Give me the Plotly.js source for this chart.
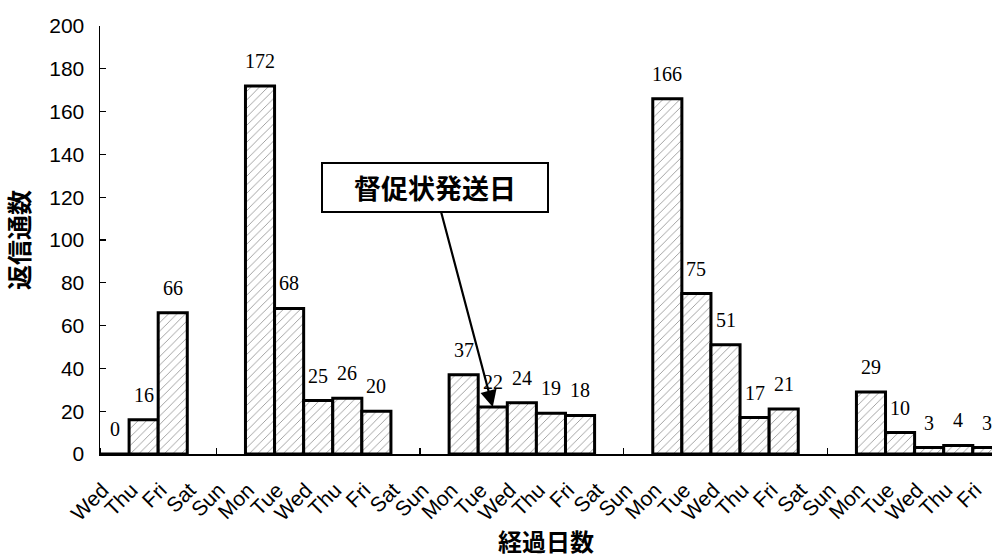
<!DOCTYPE html>
<html>
<head>
<meta charset="utf-8">
<script src="https://cdn.plot.ly/plotly-3.0.1.min.js"></script>
<style>html,body{margin:0;padding:0;background:#fff;}#chart{width:992px;height:558px;}</style>
</head>
<body>
<div id="chart"></div>
<script>
// Day-of-week labels for each elapsed day
const dayLabels = ["Wed","Thu","Fri","Sat","Sun","Mon","Tue","Wed","Thu","Fri","Sat","Sun",
  "Mon","Tue","Wed","Thu","Fri","Sat","Sun","Mon","Tue","Wed","Thu","Fri","Sat","Sun",
  "Mon","Tue","Wed","Thu","Fri"];
// Number of replies per day (null = no mail delivery, weekend)
const replies = [0,16,66,null,null,172,68,25,26,20,null,null,
  37,22,24,19,18,null,null,166,75,51,17,21,null,null,
  29,10,3,4,3];
const reminderDayIndex = 13;
const reminderText = "督促状発送日";
const xTitle = "経過日数";
const yTitle = "返信通数";

const xs = dayLabels.map((d, i) => i);

const cjk = '"Noto Sans CJK JP", "Noto Sans CJK SC", sans-serif';
const sans = '"Liberation Sans", Arial, sans-serif';
const serif = '"Liberation Serif", "Times New Roman", serif';

const trace = {
  type: 'bar',
  x: xs,
  y: replies,
  width: 1,
  marker: {
    color: '#ffffff',
    line: {color: '#000', width: 3},
    pattern: {shape: '/', fgcolor: '#999', bgcolor: '#fff', size: 6, solidity: 0.15}
  },
  hoverinfo: 'skip'
};

const annotations = [];
replies.forEach((v, i) => {
  if (v === null) return;
  annotations.push({
    x: i, y: v, xref: 'x', yref: 'y',
    text: String(v), showarrow: false,
    yanchor: 'middle', yshift: 25,
    font: {family: serif, size: 20, color: '#000'}
  });
});
annotations.push({
  x: reminderDayIndex, y: replies[reminderDayIndex], xref: 'x', yref: 'y',
  text: '<b>' + reminderText + '</b>',
  showarrow: true, arrowhead: 2, arrowsize: 1.5, arrowwidth: 2.2, arrowcolor: '#000',
  ax: -58, ay: -219,
  standoff: 0,
  width: 222, height: 45,
  bgcolor: '#fff', bordercolor: '#000', borderwidth: 2, borderpad: 1,
  font: {family: cjk, size: 27, color: '#000'}
});

const layout = {
  width: 992, height: 558,
  margin: {l: 100, r: 0, t: 26, b: 104},
  paper_bgcolor: '#fff', plot_bgcolor: '#fff',
  showlegend: false,
  bargap: 0,
  xaxis: {
    range: [-0.5, 30.16],
    tickmode: 'array', tickvals: xs, ticktext: dayLabels,
    tickangle: -45,
    ticks: '',
    ticklabelshift: -12,
    ticklabelstandoff: 14,
    tickfont: {family: sans, size: 21, color: '#000'},
    showline: true, linecolor: '#000', linewidth: 1.5,
    showgrid: false, zeroline: false,
    minor: {tick0: -0.5, dtick: 1, ticks: 'inside', ticklen: 6, tickcolor: '#000', tickwidth: 1.2, showgrid: false},
    title: {text: '<b>' + xTitle + '</b>', font: {family: cjk, size: 24, color: '#000'}, standoff: 26}
  },
  yaxis: {
    range: [0, 200],
    tickmode: 'linear', tick0: 0, dtick: 20,
    ticks: 'inside', ticklen: 6, tickcolor: '#000', tickwidth: 1.2,
    ticklabelstandoff: 10,
    tickfont: {family: sans, size: 21, color: '#000'},
    showline: true, linecolor: '#000', linewidth: 1.5,
    showgrid: false, zeroline: false,
    title: {text: '<b>' + yTitle + '</b>', font: {family: cjk, size: 25, color: '#000'}, standoff: 12}
  },
  annotations: annotations
};

Plotly.newPlot('chart', [trace], layout, {staticPlot: true, displayModeBar: false});
</script>
</body>
</html>
